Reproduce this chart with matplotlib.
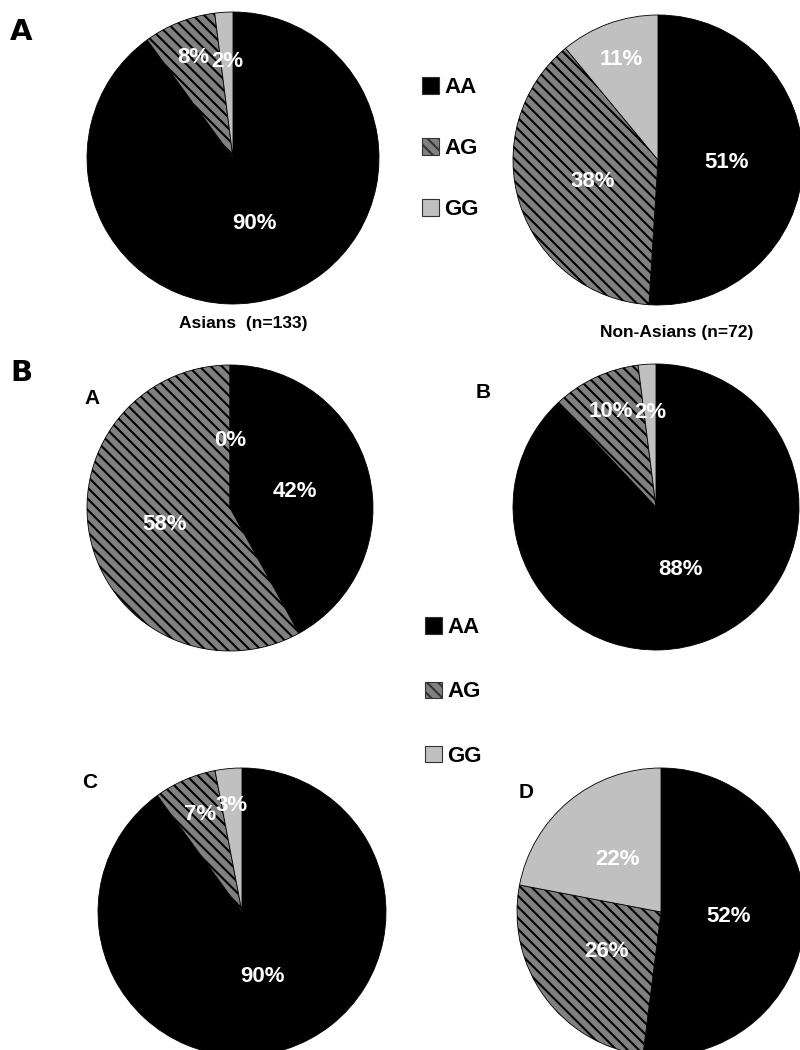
import math
import matplotlib
matplotlib.use('Agg')
import matplotlib.pyplot as plt
from matplotlib.patches import Patch

plt.rcParams['font.family'] = ['Liberation Sans', 'DejaVu Sans']
plt.rcParams['hatch.linewidth'] = 1.5

# genotype percentages
genotypes = ['AA', 'AG', 'GG']
asians = [90, 8, 2]
non_asians = [51, 38, 11]
group_a = [42, 58, 0]
group_b = [88, 10, 2]
group_c = [90, 7, 3]
group_d = [52, 26, 22]

colors = ['black', '#808080', '#c0c0c0']
hatches = [None, '\\\\\\', None]

W, H = 800, 1050
fig = plt.figure(figsize=(8, 10.5), dpi=100)


def draw_pie(vals, cx, cy, r):
    pad = 1.03
    ax = fig.add_axes([(cx - r * pad) / W, 1 - (cy + r * pad) / H,
                       2 * r * pad / W, 2 * r * pad / H])
    wedges, texts, autotexts = ax.pie(
        vals, colors=colors, startangle=90, counterclock=False,
        autopct=lambda p: '%.0f%%' % p, pctdistance=0.47,
        wedgeprops=dict(edgecolor='black', linewidth=0.6),
        textprops=dict(color='white', fontsize=16, fontweight='bold'))
    for w, h, v, t in zip(wedges, hatches, vals, autotexts):
        if h:
            w.set_hatch(h)
        # small slices get their label pushed outward
        if 0 < v < 15:
            mid = math.radians((w.theta1 + w.theta2) / 2)
            d = 0.74 if v > 2 else 0.66
            t.set_position((d * math.cos(mid), d * math.sin(mid)))
    ax.set_xlim(-pad, pad)
    ax.set_ylim(-pad, pad)
    return ax


draw_pie(asians, 233, 158, 146)
draw_pie(non_asians, 658, 160, 145)
draw_pie(group_a, 230, 508, 143)
draw_pie(group_b, 656, 507, 143)
draw_pie(group_c, 242, 912, 144)
draw_pie(group_d, 661, 912, 144)


def fx(x):
    return x / W


def fy(y):
    return 1 - y / H


big = dict(fontsize=21, fontweight='bold', family='DejaVu Sans', ha='center', va='center')
fig.text(fx(21), fy(32), 'A', **big)
fig.text(fx(21), fy(373), 'B', **big)
sub = dict(fontsize=15, fontweight='bold', ha='center', va='center')
fig.text(fx(92), fy(398), 'A', **sub)
fig.text(fx(483), fy(392), 'B', **sub)
fig.text(fx(90), fy(783), 'C', **sub)
fig.text(fx(526), fy(792), 'D', **sub)

cap = dict(fontsize=12.5, fontweight='bold', ha='center', va='center')
fig.text(fx(243), fy(323), 'Asians  (n=133)', **cap)
fig.text(fx(677), fy(333), 'Non-Asians (n=72)', **cap)

handles = [Patch(facecolor=c, edgecolor='#333333', hatch=h, linewidth=0.8)
           for c, h in zip(colors, hatches)]
for x, top, sp in ((411, 66, 1.8), (414, 606, 1.95)):
    fig.legend(handles, genotypes, loc='upper left', bbox_to_anchor=(fx(x), fy(top)),
               frameon=False, borderpad=0, prop=dict(weight='bold', size=16),
               handlelength=0.75, handleheight=0.75, handletextpad=0.25, labelspacing=sp)

fig.savefig('out.png', dpi=100)
